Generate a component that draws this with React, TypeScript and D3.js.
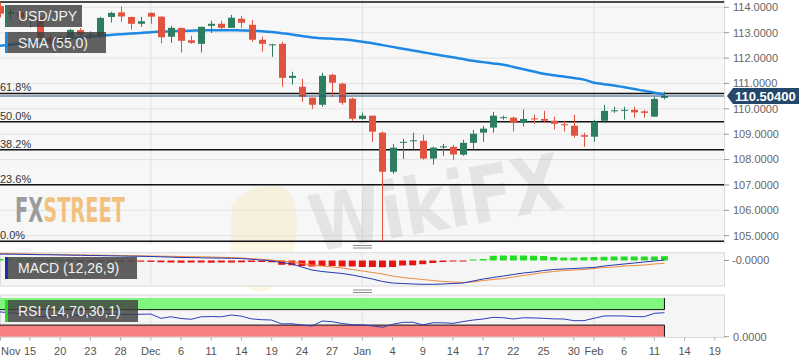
import React from 'react';
import * as d3 from 'd3';

// ---------- categories ----------
const START = '2018-11-12';
const END = '2019-02-12';
const BASE = '2018-11-15';

function weekdays(a: string, b: string): string[] {
  const out: string[] = [];
  const t = new Date(a + 'T00:00:00Z');
  const e = new Date(b + 'T00:00:00Z');
  while (t <= e) {
    const w = t.getUTCDay();
    if (w !== 0 && w !== 6) out.push(t.toISOString().slice(0, 10));
    t.setUTCDate(t.getUTCDate() + 1);
  }
  return out;
}
function tradingIndex(s: string): number {
  const b = new Date(BASE + 'T00:00:00Z');
  const d = new Date(s + 'T00:00:00Z');
  const sign = d >= b ? 1 : -1;
  const lo = sign > 0 ? b : d;
  const hi = sign > 0 ? d : b;
  let n = 0;
  const t = new Date(lo);
  while (t < hi) {
    t.setUTCDate(t.getUTCDate() + 1);
    const w = t.getUTCDay();
    if (w !== 0 && w !== 6) n++;
  }
  return sign * n;
}
const dates = weekdays(START, END);

// ---------- price data (USD/JPY daily) ----------
const open = [114.05, 113.75, 113.8, 113.55, 113.6, 112.8, 112.55, 112.84, 113.1, 112.9, 112.84, 113.62, 113.8, 113.62, 113.35, 113.78, 113.63, 112.84, 113.19, 112.7, 112.56, 113.27, 113.35, 113.19, 113.55, 113.31, 112.72, 112.5, 112.56, 111.22, 110.87, 110.44, 110.16, 111.34, 110.99, 110.4, 109.6, 109.73, 109.06, 107.52, 108.66, 108.72, 108.74, 108.04, 108.48, 108.5, 108.19, 108.66, 109.06, 109.26, 109.64, 109.65, 109.45, 109.62, 109.6, 109.53, 109.39, 109.33, 108.96, 108.9, 109.53, 109.9, 109.92, 109.96, 109.9, 109.69, 110.43];
const high = [114.21, 113.95, 113.9, 113.8, 113.65, 112.95, 112.9, 113.15, 113.18, 113.05, 113.62, 113.82, 114.03, 113.63, 113.62, 113.8, 113.65, 113.27, 113.19, 112.88, 113.23, 113.47, 113.47, 113.7, 113.66, 113.5, 112.84, 112.56, 112.64, 111.46, 111.18, 110.44, 111.42, 111.38, 111.03, 110.44, 109.85, 109.73, 109.1, 108.62, 108.82, 109.06, 108.98, 108.51, 108.62, 108.58, 108.78, 109.17, 109.33, 109.88, 109.73, 109.69, 109.98, 109.77, 109.92, 109.69, 109.53, 109.77, 109.06, 109.57, 110.16, 110.08, 110.08, 110.08, 109.96, 110.47, 110.67];
const low = [113.6, 113.55, 113.3, 113.2, 112.7, 112.3, 112.25, 112.7, 112.85, 112.75, 112.8, 113.4, 113.43, 113.12, 113.23, 113.35, 112.58, 112.6, 112.22, 112.56, 112.22, 112.99, 113.11, 113.19, 113.19, 112.64, 112.25, 112.05, 110.87, 110.95, 110.28, 110.0, 110.08, 110.48, 110.16, 109.53, 109.57, 108.7, 104.78, 107.44, 108.03, 108.39, 108.0, 107.8, 108.15, 107.99, 108.15, 108.39, 108.7, 109.06, 109.57, 109.1, 109.3, 109.41, 109.45, 109.18, 109.1, 108.86, 108.5, 108.7, 109.45, 109.84, 109.57, 109.65, 109.65, 109.69, 110.37];
const close = [113.75, 113.82, 113.6, 113.62, 112.8, 112.55, 112.8, 113.11, 112.92, 112.95, 113.58, 113.78, 113.64, 113.35, 113.45, 113.63, 112.82, 113.19, 112.68, 112.6, 113.23, 113.35, 113.19, 113.59, 113.39, 112.72, 112.56, 112.54, 111.22, 111.3, 110.48, 110.16, 111.3, 111.03, 110.24, 109.61, 109.73, 109.1, 107.52, 108.47, 108.7, 108.76, 108.04, 108.47, 108.52, 108.2, 108.66, 109.02, 109.22, 109.73, 109.67, 109.45, 109.6, 109.58, 109.53, 109.41, 109.35, 108.94, 108.9, 109.49, 109.92, 109.94, 109.96, 109.86, 109.84, 110.39, 110.504];
const sma55 = [112.48, 112.52, 112.57, 112.62, 112.66, 112.71, 112.75, 112.78, 112.81, 112.84, 112.88, 112.91, 112.94, 112.97, 112.99, 113.02, 113.04, 113.06, 113.07, 113.08, 113.09, 113.1, 113.1, 113.1, 113.09, 113.08, 113.06, 113.03, 112.98, 112.93, 112.87, 112.81, 112.78, 112.76, 112.74, 112.7, 112.64, 112.58, 112.51, 112.44, 112.37, 112.3, 112.23, 112.16, 112.09, 112.03, 111.96, 111.89, 111.84, 111.79, 111.74, 111.65, 111.56, 111.47, 111.38, 111.32, 111.27, 111.21, 111.15, 111.03, 110.97, 110.92, 110.85, 110.78, 110.71, 110.63, 110.56];

// ---------- MACD (12,26,9) ----------
const macdLine = [0.065, 0.063, 0.062, 0.06, 0.058, 0.057, 0.055, 0.053, 0.052, 0.05, 0.049, 0.047, 0.045, 0.043, 0.042, 0.04, 0.037, 0.034, 0.03, 0.029, 0.027, 0.025, 0.024, 0.022, 0.02, 0.012, 0.005, -0.005, -0.02, -0.035, -0.065, -0.095, -0.11, -0.12, -0.13, -0.145, -0.165, -0.185, -0.21, -0.225, -0.23, -0.235, -0.238, -0.238, -0.235, -0.23, -0.225, -0.205, -0.185, -0.17, -0.155, -0.14, -0.125, -0.115, -0.1, -0.09, -0.085, -0.08, -0.075, -0.07, -0.055, -0.045, -0.035, -0.025, -0.015, -0.005, 0.005];
const signalLine = [0.07, 0.068, 0.067, 0.065, 0.063, 0.062, 0.06, 0.058, 0.057, 0.055, 0.053, 0.052, 0.05, 0.048, 0.047, 0.045, 0.043, 0.042, 0.04, 0.038, 0.037, 0.035, 0.032, 0.029, 0.025, 0.018, 0.012, 0.005, -0.005, -0.015, -0.03, -0.045, -0.055, -0.065, -0.075, -0.09, -0.105, -0.12, -0.135, -0.155, -0.17, -0.18, -0.19, -0.2, -0.21, -0.215, -0.22, -0.215, -0.2, -0.19, -0.18, -0.165, -0.15, -0.135, -0.12, -0.11, -0.1, -0.095, -0.09, -0.08, -0.07, -0.065, -0.055, -0.05, -0.045, -0.035, -0.028];
const macdHist = [0.015, 0.012, 0.01, 0.008, 0.005, 0.004, 0.003, 0.002, -0.002, -0.003, -0.005, -0.006, -0.008, -0.01, -0.012, -0.014, -0.018, -0.02, -0.022, -0.02, -0.02, -0.022, -0.02, -0.02, -0.018, -0.015, -0.015, -0.018, -0.043, -0.048, -0.055, -0.06, -0.055, -0.055, -0.06, -0.06, -0.065, -0.065, -0.067, -0.065, -0.05, -0.048, -0.037, -0.025, -0.015, -0.01, -0.003, 0.01, 0.015, 0.047, 0.05, 0.05, 0.05, 0.048, 0.045, 0.035, 0.03, 0.03, 0.032, 0.035, 0.037, 0.04, 0.04, 0.04, 0.04, 0.04, 0.043];

// ---------- RSI (14) ----------
const rsi = [64, 62, 60, 56, 52, 53, 55, 56, 55, 55, 58, 59, 58, 57, 58, 58.5, 47.5, 51.5, 47, 45, 51.5, 52, 51.5, 56, 53, 46, 44, 43, 33, 33.5, 30, 27.5, 40.5, 38.8, 34, 31, 30.5, 28, 24.3, 32, 37, 37.5, 30.5, 36, 36, 34.5, 39, 43, 45.7, 50, 49, 45.7, 49, 48.5, 47.5, 46, 45.7, 41.5, 41.4, 47.5, 53.5, 53.8, 53.5, 52, 51.7, 60.4, 62];

// ---------- axes / levels ----------
const priceTicks = [105, 106, 107, 108, 109, 110, 111, 112, 113, 114];
const fibLevels = [1, 0.618, 0.5, 0.382, 0.236, 0];
const fibLabels = ['100.0%', '61.8%', '50.0%', '38.2%', '23.6%', '0.0%'];
const swingHigh = 114.21;
const swingLow = 104.78;
const tickDates = ['2018-11-15', '2018-11-20', '2018-11-23', '2018-11-28', '2018-12-03', '2018-12-06', '2018-12-11', '2018-12-14', '2018-12-19', '2018-12-24', '2018-12-27', '2019-01-01', '2019-01-04', '2019-01-09', '2019-01-14', '2019-01-17', '2019-01-22', '2019-01-25', '2019-01-30', '2019-02-01', '2019-02-06', '2019-02-11', '2019-02-14', '2019-02-19'];
const tickLabels = ['15', '20', '23', '28', 'Dec', '6', '11', '14', '19', '24', '27', 'Jan', '4', '9', '14', '17', '22', '25', '30', 'Feb', '6', '11', '14', '19'];
const monthStarts = ['2018-12-03', '2019-01-01', '2019-02-01'];

const W = 808;
const H = 364;
const PLOT_R = 724;
const FONT = "'Liberation Sans', Arial, sans-serif";
const GREEN = '#2e7d5f';
const RED = '#e0543f';

export default function App() {
  const x = d3.scaleLinear().domain([0, 68]).range([30, 714.8]);
  const y = d3.scaleLinear().domain([105, 114]).range([235.7, 7.3]);
  const yM = d3.scaleLinear().domain([-0.255, 0.078]).range([286, 252.7]);
  const yR = d3.scaleLinear().domain([0, 100]).range([336.7, 298]);
  const idx = dates.map(tradingIndex);
  const lastX = x(idx[idx.length - 1]);

  const smaPath = d3.line<number>().x((_, i) => x(idx[i])).y((d) => y(d)).curve(d3.curveMonotoneX)(sma55) || '';
  const macdPath = d3.line<number>().x((_, i) => x(idx[i])).y((d) => yM(d))(macdLine) || '';
  const sigPath = d3.line<number>().x((_, i) => x(idx[i])).y((d) => yM(d))(signalLine) || '';
  const rsiPath = d3.line<number>().x((_, i) => x(idx[i])).y((d) => yR(d))(rsi) || '';

  const lastPrice = close[close.length - 1];
  const ly = y(lastPrice);

  return (
    <div style={{ position: 'absolute', left: 0, top: 0 }}>
      <svg width={W} height={H} style={{ display: 'block', fontFamily: FONT }}>
        <rect x={0} y={0} width={W} height={H} fill="#ffffff" />
        {/* main plot bg */}
        <rect x={0} y={0} width={PLOT_R} height={244} fill="#f7f7f7" />
        {priceTicks.map((p) => (
          <line key={'g' + p} x1={0} x2={PLOT_R} y1={y(p)} y2={y(p)} stroke="#e3e3e3" strokeWidth={1} />
        ))}
        {monthStarts.map((m) => (
          <line key={'m' + m} x1={x(tradingIndex(m))} x2={x(tradingIndex(m))} y1={0} y2={244} stroke="#e0e0e0" strokeWidth={1} />
        ))}
        <line x1={PLOT_R + 0.5} x2={PLOT_R + 0.5} y1={0} y2={244} stroke="#dcdcdc" />

        {/* watermarks */}
        <path d="M232,205 Q250,180 285,188 Q300,200 296,240 Q292,285 262,292 Q236,290 230,260 Z" fill="#f6e2a8" opacity={0.3} />
        <text x={315} y={252} transform="rotate(-10 315 252)" fontFamily="'DejaVu Sans', sans-serif" fontWeight="bold" fontSize={78} textLength={255} lengthAdjust="spacingAndGlyphs" fill="#b9b9b9" opacity={0.3}>WikiFX</text>
        <text x={15} y={222} fontFamily="'DejaVu Sans Condensed', 'DejaVu Sans', sans-serif" fontWeight="bold" fontSize={34} textLength={110} lengthAdjust="spacingAndGlyphs">
          <tspan fill="#9c9c9c">FX</tspan>
          <tspan fill="#f2b76b" fillOpacity={0.85}>STREET</tspan>
        </text>

        {/* fib levels */}
        {fibLevels.map((f, k) => {
          const yy = y(swingLow + f * (swingHigh - swingLow));
          return (
            <g key={'f' + k}>
              <line x1={0} x2={PLOT_R} y1={yy} y2={yy} stroke="#111" strokeWidth={1.5} />
              <text x={0} y={yy - 2} fontSize={11} fill="#333">{fibLabels[k]}</text>
            </g>
          );
        })}

        {/* SMA */}
        <path d={smaPath} fill="none" stroke="#1e88e5" strokeWidth={2.5} />

        {/* candles */}
        {dates.map((d, i) => {
          const cx = Math.round(x(idx[i])) + 0.5;
          const up = close[i] >= open[i];
          const col = up ? GREEN : RED;
          const top = y(Math.max(open[i], close[i]));
          const bot = y(Math.min(open[i], close[i]));
          return (
            <g key={d}>
              <line x1={cx} x2={cx} y1={y(high[i])} y2={y(low[i])} stroke={col} strokeWidth={1} />
              <rect x={cx - 3.5} y={top} width={7} height={Math.max(1, bot - top)} fill={col} />
            </g>
          );
        })}

        {/* current price line */}
        <line x1={0} x2={PLOT_R} y1={ly} y2={ly} stroke="#2a5580" strokeWidth={1} />

        {/* y axis main */}
        {priceTicks.map((p) => (
          <g key={'t' + p}>
            <line x1={PLOT_R} x2={PLOT_R + 5} y1={y(p)} y2={y(p)} stroke="#999" />
            <text x={733} y={y(p)} dy="0.35em" fontSize={11} fill="#666">{p.toFixed(4)}</text>
          </g>
        ))}
        <path d={`M${727},${ly} L${733},${ly - 8} L${799},${ly - 8} L${799},${ly + 8} L${733},${ly + 8} Z`} fill="#24476b" />
        <text x={735} y={ly} dy="0.36em" fontSize={13} fontWeight="bold" fill="#ffffff">{lastPrice.toFixed(5)}</text>

        {/* legends */}
        <rect x={5} y={5} width={77} height={22} fill="rgba(62,62,62,0.82)" />
        <rect x={5} y={5} width={3} height={22} fill={GREEN} />
        <text x={18} y={16} dy="0.36em" fontSize={14} fill="#f2f2f2">USD/JPY</text>
        <rect x={5} y={32} width={101} height={21} fill="rgba(62,62,62,0.82)" />
        <rect x={5} y={32} width={3} height={21} fill="#1e88e5" />
        <text x={18} y={42.5} dy="0.36em" fontSize={14} fill="#f2f2f2">SMA (55,0)</text>

        {/* drag handles */}
        {[245.5, 248, 290, 292.5].map((hy) => (
          <line key={'h' + hy} x1={353} x2={372} y1={hy} y2={hy} stroke="#8a8a8a" strokeWidth={1} />
        ))}

        {/* MACD panel */}
        <rect x={0.5} y={252.7} width={PLOT_R} height={33.3} fill="#f5f5f5" stroke="#dadada" />
        {monthStarts.map((m) => (
          <line key={'mm' + m} x1={x(tradingIndex(m))} x2={x(tradingIndex(m))} y1={253} y2={286} stroke="#e2e2e2" />
        ))}
        {macdHist.map((v, i) => {
          const cx = x(idx[i]);
          const y0 = yM(0);
          const y1 = yM(v);
          return (
            <rect key={'hb' + i} x={cx - 3.5} y={Math.min(y0, y1)} width={7} height={Math.max(1, Math.abs(y1 - y0))} fill={v >= 0 ? '#22dd22' : '#e81414'} />
          );
        })}
        <path d={sigPath} fill="none" stroke="#f08a3c" strokeWidth={1} />
        <path d={macdPath} fill="none" stroke="#2438b0" strokeWidth={1} />
        <line x1={PLOT_R} x2={PLOT_R + 5} y1={yM(0)} y2={yM(0)} stroke="#999" />
        <text x={732} y={yM(0)} dy="0.35em" fontSize={11} fill="#666">-0.0000</text>
        <rect x={5} y={257} width={132} height={22} fill="rgba(62,62,62,0.82)" />
        <rect x={5} y={257} width={3} height={22} fill="#1c2fa8" />
        <text x={18} y={268} dy="0.36em" fontSize={14} fill="#f2f2f2">MACD (12,26,9)</text>

        {/* RSI panel */}
        <rect x={0.5} y={295} width={PLOT_R} height={42.5} fill="#f5f5f5" stroke="#dadada" />
        {monthStarts.map((m) => (
          <line key={'rm' + m} x1={x(tradingIndex(m))} x2={x(tradingIndex(m))} y1={295} y2={337} stroke="#e2e2e2" />
        ))}
        <rect x={0} y={yR(100)} width={lastX} height={yR(70) - yR(100)} fill="#80f680" />
        <rect x={0} y={yR(30)} width={lastX} height={yR(0) - yR(30)} fill="#f68080" />
        <line x1={0} x2={lastX} y1={yR(70)} y2={yR(70)} stroke="#111" strokeWidth={1} />
        <line x1={0} x2={lastX} y1={yR(30)} y2={yR(30)} stroke="#111" strokeWidth={1} />
        <line x1={lastX} x2={lastX} y1={yR(100)} y2={yR(70)} stroke="#111" strokeWidth={1} />
        <line x1={lastX} x2={lastX} y1={yR(30)} y2={yR(0)} stroke="#111" strokeWidth={1} />
        <path d={rsiPath} fill="none" stroke="#2c3fb8" strokeWidth={1} />
        <line x1={PLOT_R} x2={PLOT_R + 5} y1={yR(0)} y2={yR(0)} stroke="#999" />
        <text x={733} y={yR(0)} dy="0.35em" fontSize={11} fill="#666">0.0000</text>
        <rect x={5} y={300} width={133} height={22} fill="rgba(62,62,62,0.82)" />
        <rect x={5} y={300} width={3} height={22} fill="#22dd22" />
        <text x={18} y={311} dy="0.36em" fontSize={14} fill="#f2f2f2">RSI (14,70,30,1)</text>

        {/* x axis */}
        <line x1={0.5} x2={0.5} y1={337.5} y2={340.5} stroke="#aaa" />
        <text x={1} y={355} fontSize={11} fill="#555">Nov</text>
        {tickDates.map((t, k) => {
          const tx = x(tradingIndex(t));
          return (
            <g key={'x' + t}>
              <line x1={tx} x2={tx} y1={337.5} y2={340.5} stroke="#aaa" />
              <text x={tx} y={355} textAnchor="middle" fontSize={11} fill="#555">{tickLabels[k]}</text>
            </g>
          );
        })}
      </svg>
    </div>
  );
}
